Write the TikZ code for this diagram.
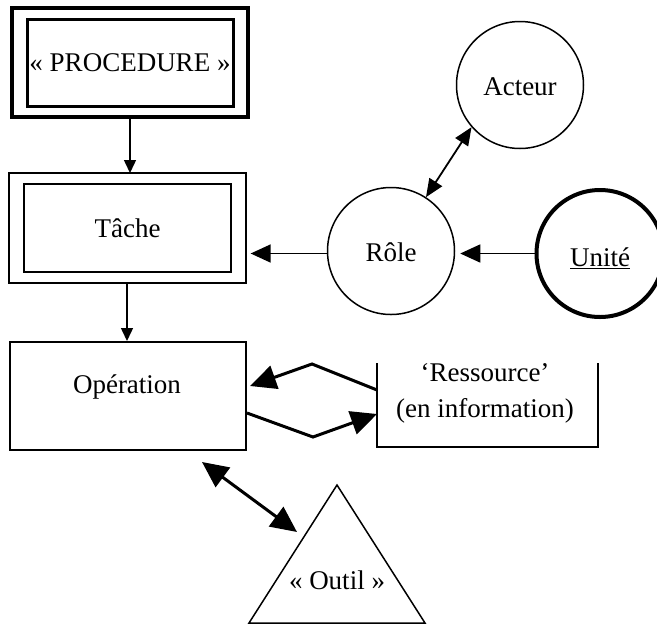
\documentclass[tikz,border=0pt]{standalone}
\usepackage{fontspec}
\setmainfont{Liberation Serif}
\usetikzlibrary{arrows.meta}
\begin{document}
\begin{tikzpicture}[x=1pt,y=-1pt,
  every node/.style={font=\fontsize{27}{36}\selectfont},
  box/.style={draw,rectangle,inner sep=0pt},
  circ/.style={draw,circle,inner sep=0pt,line width=1.5pt,minimum size=127pt},
  txt/.style={inner sep=0pt,align=center},
  thinarrow/.style={line width=1.5pt,-{Triangle[length=13pt,width=12pt]}},
  midarrow/.style={line width=1.5pt,-{Triangle[length=20pt,width=18pt]}},
  thickarrow/.style={line width=3pt,-{Triangle[length=26pt,width=24pt]}},
  dblarrow/.style={line width=1.8pt,{Triangle[length=18pt,width=15pt]}-{Triangle[length=18pt,width=15pt]}},
  thickdbl/.style={line width=3pt,{Triangle[length=26pt,width=24pt]}-{Triangle[length=26pt,width=24pt]}}]
\useasboundingbox (0,0) rectangle (657,633);
% PROCEDURE
\node[box,line width=4pt,minimum width=236pt,minimum height=109pt] (proco) at (130,62.5) {};
\node[box,line width=3pt,minimum width=206pt,minimum height=87pt] (proci) at (130,62.5) {« PROCEDURE »};
% Tache
\node[box,line width=1.3pt,minimum width=237pt,minimum height=110pt] (tacheo) at (127.5,228) {};
\node[box,line width=1.3pt,minimum width=207pt,minimum height=88pt] (tachei) at (127.5,228) {Tâche};
% Operation
\node[box,line width=1.5pt,minimum width=236pt,minimum height=108pt] (op) at (128,396) {};
\node[txt] (optxt) at (127,387) {Opération};
% Ressource
\coordinate (r1) at (377,363);
\coordinate (r2) at (377,447);
\coordinate (r3) at (598,447);
\coordinate (r4) at (598,363);
\draw[line width=1.5pt] (r1) -- (r2) -- (r3) -- (r4);
\node[txt] (res) at (485,393) {‘Ressource’\\(en information)};
% circles
\node[circ] (acteur) at (520,85) {};
\node[txt] (actxt) at (520,87) {Acteur};
\node[circ] (role) at (391,251) {};
\node[txt] (roletxt) at (391,252) {Rôle};
\node[circ,line width=4pt] (unite) at (600,253.5) {};
\node[txt] (unitetxt) at (600,258) {\underline{Unité}};
% Outil triangle
\coordinate (t1) at (337,485);
\coordinate (t2) at (425,623);
\coordinate (t3) at (249,623);
\draw[line width=1.5pt] (t1) -- (t2) -- (t3) -- cycle;
\node[txt] (outil) at (337,580) {« Outil »};
% connectors
\coordinate (tachein) at (130,173);
\coordinate (tacheout) at (127,283);
\coordinate (opin) at (127,341);
\draw[thinarrow] (proco.south) -- (tachein);
\draw[thinarrow] (tacheout) -- (opin);
\draw[midarrow,shorten >=4pt] (role.west |- unite.west) -- (tacheo.east |- unite.west);
\draw[midarrow,shorten >=5pt] (unite.west) -- (role.east |- unite.west);
\draw[dblarrow] (acteur.221) -- (role.57);
\coordinate (a1) at (377,390);
\coordinate (a2) at (312,364);
\coordinate (a3) at (250,386);
\draw[thickarrow] (a1) -- (a2) -- (a3);
\coordinate (b1) at (247,413);
\coordinate (b2) at (313,437);
\coordinate (b3) at (377,414);
\draw[thickarrow] (b1) -- (b2) -- (b3);
\coordinate (c1) at (202,462);
\coordinate (c2) at (297,532);
\draw[thickdbl] (c1) -- (c2);
\end{tikzpicture}
\end{document}
